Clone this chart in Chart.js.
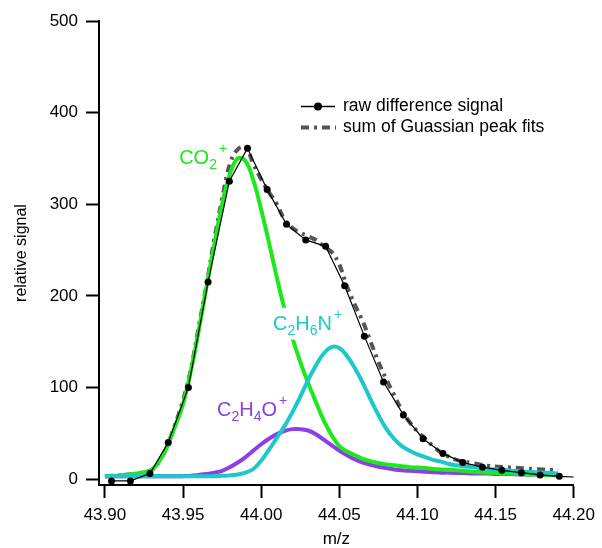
<!DOCTYPE html>
<html>
<head>
<meta charset="utf-8">
<script src="https://cdn.jsdelivr.net/npm/chart.js@4/dist/chart.umd.min.js"></script>
<style>
    body { margin: 0; background: #fff; }
</style>
</head>
<body>
<canvas id="myChart" width="602" height="548"></canvas>
<script>
// raw difference signal (measured points)
const rawMz = [43.9042, 43.9163, 43.9288, 43.9405, 43.9534, 43.9660, 43.9796, 43.9912, 44.0038, 44.0162,
    44.0285, 44.0412, 44.0534, 44.0660, 44.0783, 44.0910, 44.1036, 44.1163, 44.1290, 44.1416,
    44.1540, 44.1665, 44.1785, 44.1908, 44.2034];
const rawSignal = [-2, -2, 6, 40, 100, 215, 325, 361, 316, 278,
    261, 254, 211, 156, 106, 70, 44, 28, 18, 13,
    9.5, 7, 4.5, 3, 2];

// fitted curves, sampled on one m/z grid
const fitMz = [43.900, 43.905, 43.910, 43.915, 43.920, 43.925, 43.930, 43.935, 43.940, 43.945,
    43.950, 43.955, 43.960, 43.965, 43.970, 43.975, 43.980, 43.985, 43.990, 43.995,
    44.000, 44.005, 44.010, 44.015, 44.020, 44.025, 44.030, 44.035, 44.040, 44.045,
    44.050, 44.055, 44.060, 44.065, 44.070, 44.075, 44.080, 44.085, 44.090, 44.095,
    44.100, 44.105, 44.110, 44.115, 44.120, 44.125, 44.130, 44.135, 44.140, 44.145,
    44.150, 44.155, 44.160, 44.165, 44.170, 44.175, 44.180, 44.185, 44.190];
const co2Fit = [3, 3.5, 4, 5, 6, 7.5, 10, 20, 36, 58,
    82, 118, 162, 210, 256, 300, 333, 350, 347, 326,
    294, 258, 220, 185, 154, 128, 105, 84, 64, 48,
    36, 30, 26, 22, 19.5, 17.5, 16, 15, 14, 13,
    12.5, 12, 11, 10.5, 10, 9.5, 9, 8, 7.5, 7,
    6.5, 6, 6, 5.5, 5, 5, 4.5, 4.5, 4];
const c2h6nFit = [3, 3, 3, 3, 3, 3, 3, 3, 3, 3,
    3, 3, 3, 3, 3, 3.5, 4, 5, 7, 11,
    20, 32, 45, 58, 73, 90, 108, 124, 137, 144,
    143, 134, 121, 105, 87, 70, 55, 44, 36, 31,
    27, 24, 21, 19, 16.5, 15, 14, 13, 12, 11,
    10.5, 10, 9, 8.5, 8, 7.5, 7, 6.5, 6];
const c2h4oFit = [3, 3, 3, 3, 3, 3, 3, 3, 3, 3,
    3.2, 3.5, 4.5, 5.5, 7, 9, 13, 18, 24, 31,
    38, 44, 49, 52.5, 54.5, 54.5, 53, 49, 43, 37,
    31, 26, 21.5, 18, 15.5, 13.5, 12, 10.5, 9.5, 9,
    8.5, 8, 7.5, 7, 7, 6.5, 6.5, 6, 6, 6,
    5.5, 5.5, 5.5, 5, 5, 5, 5, 4.5, 4.5];
const sumFit = [3, 3.5, 4, 5, 6, 7.5, 10, 20, 37, 60,
    86, 120, 166, 212, 262, 306, 344, 360, 362, 344,
    327, 313, 300, 283, 274, 269, 265, 261, 254, 248,
    234, 210, 190, 172, 150, 128, 109, 92, 75, 62,
    52, 44, 36, 29, 24.5, 21, 19, 17.5, 16, 14.5,
    13.8, 13, 12.5, 12, 11.5, 11, 10.5, 10, 9.8];

const xTicks = [43.90, 43.95, 44.00, 44.05, 44.10, 44.15, 44.20];
const yTicks = [0, 100, 200, 300, 400, 500];

const FONT = "'Liberation Sans', Arial, sans-serif";
const GREEN = '#1de81d';
const CYAN = '#1cc8cc';
const PURPLE = '#8c40e4';
const GRAY = '#555555';

// peak labels: [text, kind] where kind is n / sub / sup, anchored in data units
const peakLabels = [
    { parts: [['CO', 'n'], ['2', 'sub'], ['+', 'sup']], mz: 43.9475, value: 344, color: GREEN, knockout: false },
    { parts: [['C', 'n'], ['2', 'sub'], ['H', 'n'], ['6', 'sub'], ['N', 'n'], ['+', 'sup']], mz: 44.0076, value: 163, color: CYAN, knockout: true },
    { parts: [['C', 'n'], ['2', 'sub'], ['H', 'n'], ['4', 'sub'], ['O', 'n'], ['+', 'sup']], mz: 43.9717, value: 68.6, color: PURPLE, knockout: false }
];

function toPoints(xs, ys) {
    return xs.map((x, i) => ({ x: x, y: ys[i] }));
}

function partFont(kind) {
    return (kind === 'n' ? '20px ' : '14px ') + FONT;
}

const peakLabelPlugin = {
    id: 'peakLabels',
    afterDatasetsDraw(chart) {
        const ctx = chart.ctx;
        const xs = chart.scales.x;
        const ys = chart.scales.y;
        ctx.save();
        ctx.textBaseline = 'alphabetic';
        ctx.textAlign = 'left';
        for (const lab of peakLabels) {
            const x0 = xs.getPixelForValue(lab.mz);
            const y = ys.getPixelForValue(lab.value);
            if (lab.knockout) {
                let w = 0;
                for (const [txt, kind] of lab.parts) {
                    ctx.font = partFont(kind);
                    w += ctx.measureText(txt).width + (kind === 'sup' ? 2 : 0);
                }
                ctx.fillStyle = '#fff';
                ctx.fillRect(x0 - 3, y - 22, w + 6, 32);
            }
            let x = x0;
            ctx.fillStyle = lab.color;
            for (const [txt, kind] of lab.parts) {
                ctx.font = partFont(kind);
                if (kind === 'n') {
                    ctx.fillText(txt, x, y);
                } else if (kind === 'sub') {
                    ctx.fillText(txt, x, y + 5);
                } else {
                    x += 2;
                    ctx.fillText(txt, x, y - 11);
                }
                x += ctx.measureText(txt).width;
            }
        }
        ctx.restore();
    }
};

const legendPlugin = {
    id: 'customLegend',
    afterDraw(chart) {
        const ctx = chart.ctx;
        ctx.save();
        // raw difference signal
        ctx.strokeStyle = '#000';
        ctx.lineWidth = 1.5;
        ctx.beginPath();
        ctx.moveTo(301, 106.5);
        ctx.lineTo(335, 106.5);
        ctx.stroke();
        ctx.fillStyle = '#000';
        ctx.beginPath();
        ctx.arc(318, 106.5, 4, 0, Math.PI * 2);
        ctx.fill();
        // sum of fits
        ctx.strokeStyle = GRAY;
        ctx.lineWidth = 4;
        ctx.setLineDash([8, 5, 3, 5]);
        ctx.beginPath();
        ctx.moveTo(301, 127.5);
        ctx.lineTo(336, 127.5);
        ctx.stroke();
        ctx.setLineDash([]);
        ctx.fillStyle = '#000';
        ctx.font = '17.5px ' + FONT;
        ctx.textBaseline = 'middle';
        ctx.fillText('raw difference signal', 343, 106);
        ctx.fillText('sum of Guassian peak fits', 343, 127);
        ctx.restore();
    }
};

const fitStyle = {
    borderWidth: 4,
    pointRadius: 0,
    showLine: true,
    tension: 0.4
};

const data = {
    datasets: [
        {
            label: 'raw difference signal',
            data: toPoints(rawMz, rawSignal),
            borderColor: '#000',
            backgroundColor: '#000',
            borderWidth: 1.2,
            pointRadius: 3.5,
            pointBorderWidth: 0,
            showLine: true,
            order: 0
        },
        Object.assign({ label: 'CO2+', data: toPoints(fitMz, co2Fit), borderColor: GREEN, order: 2 }, fitStyle),
        Object.assign({ label: 'C2H6N+', data: toPoints(fitMz, c2h6nFit), borderColor: CYAN, order: 1 }, fitStyle),
        Object.assign({ label: 'C2H4O+', data: toPoints(fitMz, c2h4oFit), borderColor: PURPLE, order: 3 }, fitStyle),
        Object.assign({ label: 'sum of Guassian peak fits', data: toPoints(fitMz, sumFit), borderColor: GRAY,
            borderDash: [8, 5, 3, 5], order: 4 }, fitStyle)
    ]
};

const ctx = document.getElementById('myChart').getContext('2d');
new Chart(ctx, {
    type: 'scatter',
    data: data,
    plugins: [peakLabelPlugin, legendPlugin],
    options: {
        responsive: false,
        animation: false,
        devicePixelRatio: 1,
        layout: { padding: { top: 21, right: 23, left: 0, bottom: 0 } },
        plugins: {
            legend: { display: false },
            tooltip: { enabled: false }
        },
        scales: {
            x: {
                type: 'linear',
                min: 43.8962,
                max: 44.20,
                afterBuildTicks: (scale) => { scale.ticks = xTicks.map(v => ({ value: v })); },
                afterFit: (scale) => { scale.height = 63; },
                ticks: {
                    color: '#000',
                    font: { size: 17, family: FONT },
                    padding: 7,
                    maxRotation: 0,
                    callback: (v) => Number(v).toFixed(2)
                },
                grid: { drawOnChartArea: false, drawTicks: true, tickLength: 13, tickWidth: 2, tickColor: '#000' },
                border: { display: true, color: '#000', width: 2 },
                title: { display: true, text: 'm/z', color: '#000', font: { size: 17, family: FONT, lineHeight: 1 }, padding: 0 }
            },
            y: {
                type: 'linear',
                min: -6.5,
                max: 500,
                afterBuildTicks: (scale) => { scale.ticks = yTicks.map(v => ({ value: v })); },
                afterFit: (scale) => { scale.width = 99; },
                ticks: {
                    color: '#000',
                    font: { size: 17, family: FONT },
                    padding: 8,
                    callback: (v) => v
                },
                grid: { drawOnChartArea: false, drawTicks: true, tickLength: 13, tickWidth: 2, tickColor: '#000' },
                border: { display: true, color: '#000', width: 2 },
                title: { display: true, text: 'relative signal', color: '#000', font: { size: 16, family: FONT }, padding: { top: 12, bottom: 0 } }
            }
        }
    }
});
</script>
</body>
</html>
